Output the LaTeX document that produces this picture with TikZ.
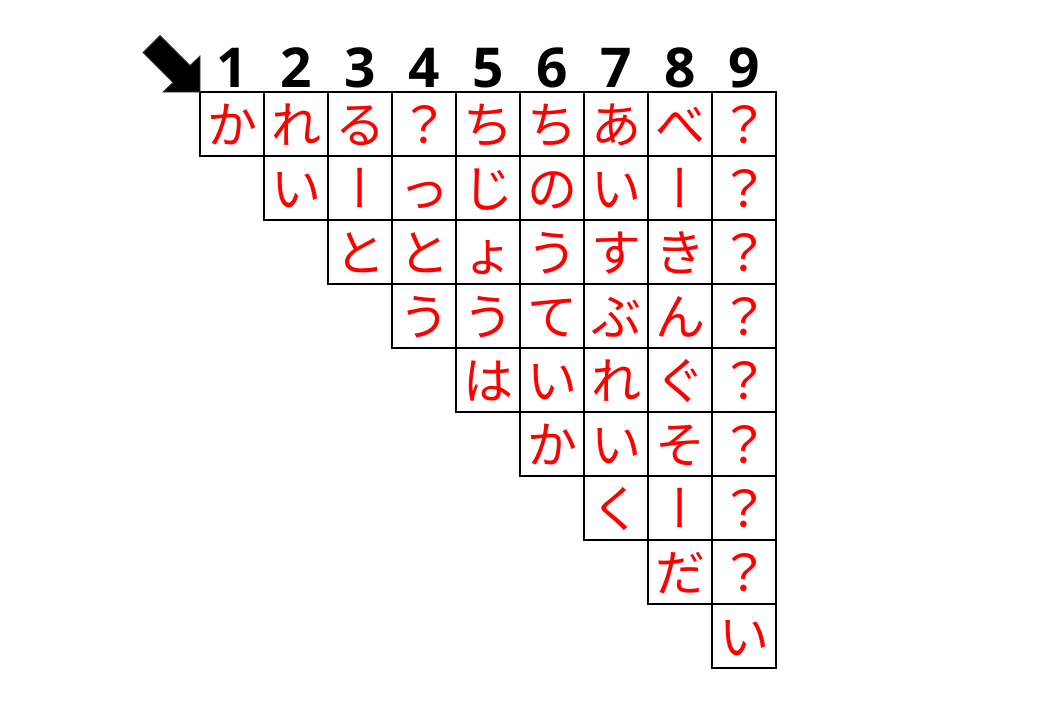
\documentclass[tikz,border=0pt]{standalone}
\usepackage{fontspec}
\newfontfamily\jpfont{Noto Sans CJK JP}
\newfontfamily\jpvert[RawFeature=+vert]{Noto Sans CJK JP}
\newfontfamily\numfont{Open Sans}
\newcommand{\vbar}{{\jpvert ー}}
\begin{document}
\begin{tikzpicture}[x=1pt,y=-1pt,
  cell/.style={draw=black,line width=1.6pt,minimum size=64pt,inner sep=0pt,
    text=red,font=\jpfont\fontsize{50}{50}\selectfont,
    text height=39pt,text depth=1pt},
  num/.style={inner sep=0pt,text=black,font=\numfont\bfseries\fontsize{55}{55}\selectfont,
    text height=39.5pt,text depth=0pt},
  pointer/.style={fill=black,draw=black!70!cyan!40!black,line width=0.8pt,line join=miter}]
\useasboundingbox (0,0) rectangle (1040,720);
\fill[white] (0,0) rectangle (1040,720);
% column numbers
\foreach \c in {1,...,9}{
  \node[num] (n\c) at ({168+64*\c},68) {\c};
}
% grid cells: row r starts at column r
\newcommand{\cellat}[3]{\node[cell] (c-#1-#2) at ({168+64*#2},{60+64*#1}) {#3};}
\cellat{1}{1}{か}\cellat{1}{2}{れ}\cellat{1}{3}{る}\cellat{1}{4}{？}\cellat{1}{5}{ち}\cellat{1}{6}{ち}\cellat{1}{7}{あ}\cellat{1}{8}{べ}\cellat{1}{9}{？}
\cellat{2}{2}{い}\cellat{2}{3}{\vbar}\cellat{2}{4}{っ}\cellat{2}{5}{じ}\cellat{2}{6}{の}\cellat{2}{7}{い}\cellat{2}{8}{\vbar}\cellat{2}{9}{？}
\cellat{3}{3}{と}\cellat{3}{4}{と}\cellat{3}{5}{ょ}\cellat{3}{6}{う}\cellat{3}{7}{す}\cellat{3}{8}{き}\cellat{3}{9}{？}
\cellat{4}{4}{う}\cellat{4}{5}{う}\cellat{4}{6}{て}\cellat{4}{7}{ぶ}\cellat{4}{8}{ん}\cellat{4}{9}{？}
\cellat{5}{5}{は}\cellat{5}{6}{い}\cellat{5}{7}{れ}\cellat{5}{8}{ぐ}\cellat{5}{9}{？}
\cellat{6}{6}{か}\cellat{6}{7}{い}\cellat{6}{8}{そ}\cellat{6}{9}{？}
\cellat{7}{7}{く}\cellat{7}{8}{\vbar}\cellat{7}{9}{？}
\cellat{8}{8}{だ}\cellat{8}{9}{？}
\cellat{9}{9}{い}
% pointer arrow
\draw[pointer] (143,52.5) -- (160,35.5) -- (190,65.5) -- (200,56) -- (200,92) -- (163,92) -- (173,82.5) -- cycle;
\end{tikzpicture}
\end{document}
